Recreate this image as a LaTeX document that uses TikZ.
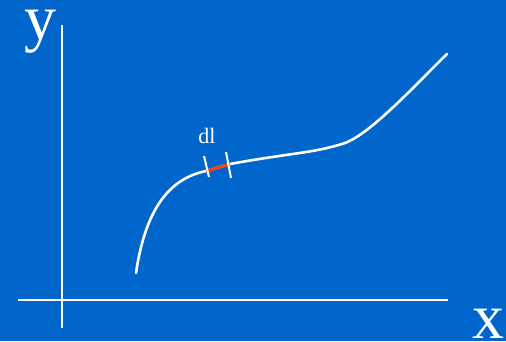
\documentclass[tikz,border=0pt]{standalone}
\usepackage{fontspec}
\setmainfont{Liberation Serif}
\definecolor{slideblue}{RGB}{0,102,204}
\definecolor{dlred}{RGB}{255,60,20}
\begin{document}
\begin{tikzpicture}[x=1pt,y=-1pt,
    axis/.style={draw=white,line width=2pt},
    curve/.style={draw=white,line width=2.6pt,line cap=round},
    tick/.style={draw=white,line width=2pt},
    biglabel/.style={text=white,inner sep=0pt,anchor=base,font=\fontsize{64}{64}\selectfont}]
    \fill[slideblue] (0,0) rectangle (506,341);
    \useasboundingbox (0,0) rectangle (506,341);

    \coordinate (Xe) at (448,300);
    \coordinate (Xs) at (18,300);
    \coordinate (Ye) at (62,25);
    \coordinate (Ys) at (62,328);

    % the axes
    \draw [axis] (Xs) -- (Xe)
                 (Ys) -- (Ye);
    \node[biglabel] (ylab) at (40,39) {y};
    \node[biglabel] (xlab) at (488,338) {x};

    % the curve
    \coordinate (S) at (136,273);
    \coordinate (P) at (206,171);
    \coordinate (Q) at (230,164);
    \coordinate (R) at (345,143);
    \coordinate (E) at (447,54);
    \draw [curve] (S) .. controls (146,205) and (172,178) .. (P)
                  -- (Q)
                  .. controls (290,153) and (315,153) .. (R)
                  .. controls (372,133) and (420,80) .. (E);

    % the element dl
    \draw [dlred,line width=3pt] (P) -- (Q);
    \draw [tick] (204,156) -- (209,177)
                 (226,152) -- (231,178);
    \node[text=white,inner sep=0pt,anchor=base,font=\fontsize{22}{22}\selectfont]
        (dlab) at (207,143) {dl};
\end{tikzpicture}
\end{document}
